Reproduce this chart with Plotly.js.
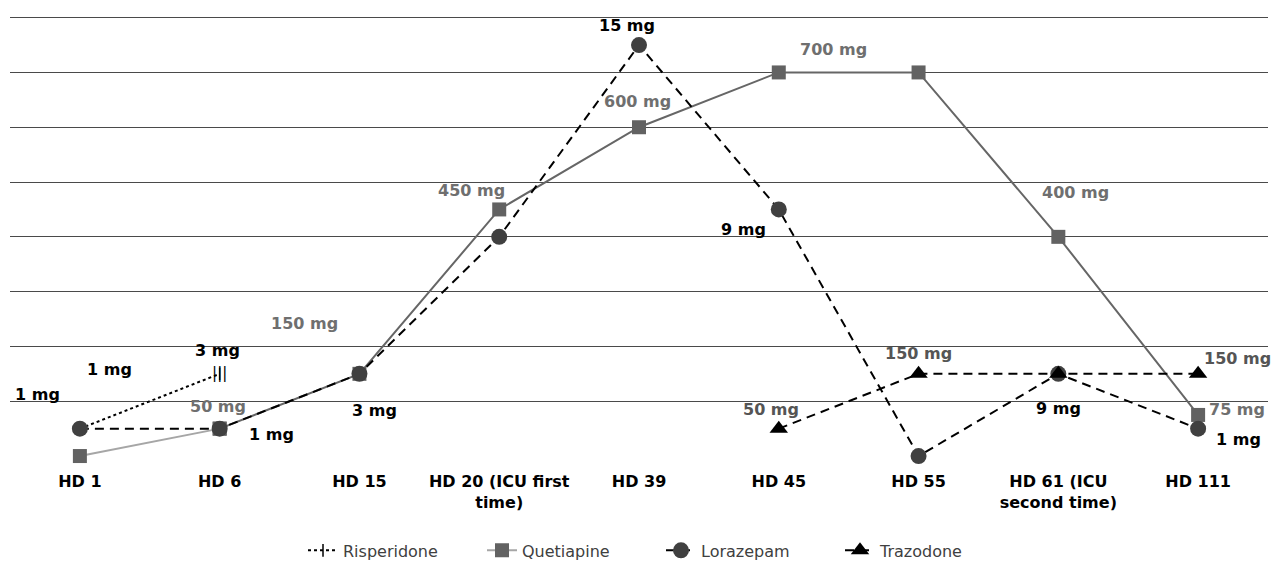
<!DOCTYPE html>
<html>
<head>
<meta charset="utf-8">
<script src="https://cdn.plot.ly/plotly-3.0.1.min.js"></script>
<style>html,body{margin:0;padding:0;background:#fff;}#chart{width:1271px;height:564px;}</style>
</head>
<body>
<div id="chart"></div>
<script>
// Categories (hospital days)
const categories = ["HD 1", "HD 6", "HD 15", "HD 20 (ICU first<br>time)", "HD 39", "HD 45", "HD 55", "HD 61 (ICU<br>second time)", "HD 111"];

const risperidoneIdx = [0, 1];
const risperidoneVal = [0.5, 1.5];
const risperidoneLbl = ["1 mg", "3 mg"];

const quetiapineIdx = [0, 1, 2, 3, 4, 5, 6, 7, 8];
const quetiapineVal = [0, 0.5, 1.5, 4.5, 6, 7, 7, 4, 0.75];
const quetiapineLbl = ["", "50 mg", "150 mg", "450 mg", "600 mg", "700 mg", "", "400 mg", "75 mg"];

const lorazepamIdx = [0, 1, 2, 3, 4, 5, 6, 7, 8];
const lorazepamVal = [0.5, 0.5, 1.5, 4, 7.5, 4.5, 0, 1.5, 0.5];
const lorazepamLbl = ["1 mg", "1 mg", "3 mg", "", "15 mg", "9 mg", "", "9 mg", "1 mg"];

const trazodoneIdx = [5, 6, 7, 8];
const trazodoneVal = [0.5, 1.5, 1.5, 1.5];
const trazodoneLbl = ["50 mg", "150 mg", "", "150 mg"];

const gridLevels = [1, 2, 3, 4, 5, 6, 7, 8];

// label offsets (style, pixels)
const risOff = [[30, 59], [-2, 23]];
const queOff = [[0,0], [-2, 22], [-55, 50], [-28, 19], [-2, 26], [55, 23], [0,0], [17, 44], [39, 5]];
const lorOff = [[-42, 34], [52, -6], [15, -37], [0,0], [-12, 20], [-35, -20], [0,0], [0, -35], [40, -11]];
const traOff = [[-8, 19], [0, 20], [0,0], [39, 15]];

const labelFont = {family: "DejaVu Sans", size: 16, weight: "bold"};
const dashPat = "9px,6px";

const traces = [];
// Risperidone
traces.push({
  x: risperidoneIdx, y: risperidoneVal, name: "Risperidone", type: "scatter", mode: "lines+markers",
  line: {color: "#000", width: 2, dash: "dot"},
  marker: {symbol: "line-ns-open", size: 9, color: "#000", line: {color: "#000", width: 1.5}},
  cliponaxis: false
});
traces.push({
  x: risperidoneIdx.slice(1), y: risperidoneVal.slice(1), type: "scatter", mode: "text", text: ["|||"],
  textposition: "middle center", textfont: {family: "DejaVu Sans", size: 15, color: "#000"},
  showlegend: false, hoverinfo: "skip", cliponaxis: false
});
// Quetiapine
traces.push({
  x: quetiapineIdx.slice(0, 2), y: quetiapineVal.slice(0, 2), name: "Quetiapine", type: "scatter", mode: "lines+markers",
  line: {color: "#a6a6a6", width: 2},
  marker: {symbol: "square", size: 14, color: "#626262"},
  cliponaxis: false
});
traces.push({
  x: quetiapineIdx.slice(1), y: quetiapineVal.slice(1), name: "Quetiapine", type: "scatter", mode: "lines+markers",
  line: {color: "#666666", width: 2},
  marker: {symbol: "square", size: 14, color: "#626262"},
  showlegend: false, cliponaxis: false
});
// Lorazepam
traces.push({
  x: lorazepamIdx, y: lorazepamVal, name: "Lorazepam", type: "scatter", mode: "lines+markers",
  line: {color: "#000", width: 2, dash: dashPat},
  marker: {symbol: "circle", size: 16, color: "#404040"},
  cliponaxis: false
});
// Trazodone
traces.push({
  x: trazodoneIdx, y: trazodoneVal, name: "Trazodone", type: "scatter", mode: "lines+markers",
  line: {color: "#000", width: 2, dash: dashPat},
  marker: {symbol: "triangle-up", size: 16, color: "#000"},
  cliponaxis: false
});

const annotations = [];
function addLabels(xs, ys, lbls, offs, color) {
  xs.forEach((x, i) => {
    if (!lbls[i]) return;
    annotations.push({
      x: x, y: ys[i], xref: "x", yref: "y", text: lbls[i], showarrow: false,
      xshift: offs[i][0], yshift: offs[i][1],
      font: Object.assign({}, labelFont, {color: color})
    });
  });
}
addLabels(risperidoneIdx, risperidoneVal, risperidoneLbl, risOff, "#000");
addLabels(quetiapineIdx, quetiapineVal, quetiapineLbl, queOff, "#6f6f6f");
addLabels(lorazepamIdx, lorazepamVal, lorazepamLbl, lorOff, "#000");
addLabels(trazodoneIdx, trazodoneVal, trazodoneLbl, traOff, "#555555");

const layout = {
  width: 1271, height: 564,
  margin: {l: 9.5, r: 2.5, t: 15.8, b: 96.5},
  paper_bgcolor: "#fff", plot_bgcolor: "#fff",
  showlegend: true,
  legend: {
    orientation: "h", x: 0.2384, xanchor: "left", xref: "container",
    y: 0.024, yanchor: "middle", yref: "container",
    font: {family: "DejaVu Sans", size: 16, color: "#404040"},
    entrywidth: 134, entrywidthmode: "pixels",
    traceorder: "normal"
  },
  xaxis: {
    range: [-0.5, 8.5], tickmode: "array", tickvals: quetiapineIdx, ticktext: categories,
    showgrid: false, zeroline: false, showline: false, ticks: "", ticklabelstandoff: 3,
    tickfont: {family: "DejaVu Sans", size: 16, weight: "bold", color: "#000"}
  },
  yaxis: {
    range: [-0.2, 8.03], tickmode: "array", tickvals: gridLevels,
    showticklabels: false, showgrid: true, gridcolor: "#4a4a4a", gridwidth: 1,
    zeroline: false, showline: false, ticks: ""
  },
  annotations: annotations
};

Plotly.newPlot("chart", traces, layout, {displayModeBar: false, staticPlot: true});
</script>
</body>
</html>
